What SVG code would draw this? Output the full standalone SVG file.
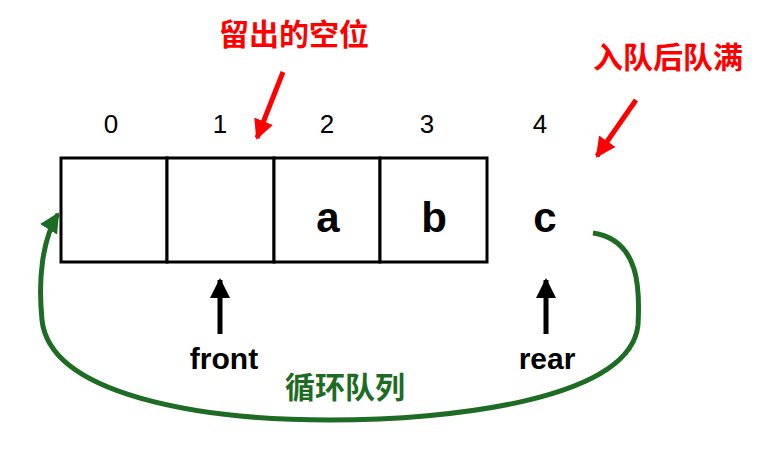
<svg xmlns="http://www.w3.org/2000/svg" width="769" height="454" viewBox="0 0 769 454">
<style>
.cell{fill:#fff;stroke:#000;stroke-width:3}
.idx{font-family:"Liberation Sans",sans-serif;font-size:26px;text-anchor:middle;fill:#000}
.val{font-family:"Liberation Sans",sans-serif;font-size:42px;font-weight:bold;text-anchor:middle;fill:#000}
.lbl{font-family:"Liberation Sans",sans-serif;font-size:30px;font-weight:bold;text-anchor:middle;fill:#000}
.red{font-family:"Noto Sans CJK SC",sans-serif;font-size:30px;font-weight:bold;text-anchor:middle;fill:#ff0000}
.grn{font-family:"Noto Sans CJK SC",sans-serif;font-size:30px;font-weight:bold;text-anchor:middle;fill:#1e6b24}
</style>
<defs>
<marker id="ar" viewBox="0 0 10 10" refX="9" refY="5" markerWidth="4" markerHeight="4" orient="auto" markerUnits="strokeWidth"><path d="M0,0L10,5L0,10z" fill="#ff0000"/></marker>
<marker id="ab" viewBox="0 0 10 10" refX="9" refY="5" markerWidth="4" markerHeight="4" orient="auto" markerUnits="strokeWidth"><path d="M0,0L10,5L0,10z" fill="#000"/></marker>
<marker id="ag" viewBox="0 0 10 10" refX="9" refY="5" markerWidth="4" markerHeight="4" orient="auto" markerUnits="strokeWidth"><path d="M0,0L10,5L0,10z" fill="#1e6b24"/></marker>
</defs>
<g id="cells">
<rect class="cell" x="61" y="158" width="106" height="104"/>
<rect class="cell" x="167" y="158" width="107" height="104"/>
<rect class="cell" x="274" y="158" width="106" height="104"/>
<rect class="cell" x="380" y="158" width="107" height="104"/>
</g>
<g id="indices">
<text class="idx" x="111" y="133">0</text>
<text class="idx" x="220" y="133">1</text>
<text class="idx" x="327" y="133">2</text>
<text class="idx" x="427" y="133">3</text>
<text class="idx" x="540" y="133">4</text>
</g>
<g id="values">
<text class="val" x="328" y="232">a</text>
<text class="val" x="434" y="232">b</text>
<text class="val" x="545" y="232">c</text>
</g>
<g id="labels">
<text class="red" x="294" y="45">留出的空位</text>
<text class="red" x="668" y="68">入队后队满</text>
<text class="lbl" x="224" y="369">front</text>
<text class="lbl" x="547" y="369">rear</text>
<text class="grn" x="345" y="398">循环队列</text>
</g>
<g id="connectors" fill="none">
<line x1="283" y1="72" x2="257" y2="138" stroke="#ff0000" stroke-width="5" marker-end="url(#ar)"/>
<line x1="636" y1="100" x2="597" y2="156" stroke="#ff0000" stroke-width="5" marker-end="url(#ar)"/>
<line x1="220" y1="334" x2="220" y2="280" stroke="#000" stroke-width="5" marker-end="url(#ab)"/>
<line x1="546" y1="334" x2="546" y2="280" stroke="#000" stroke-width="5" marker-end="url(#ab)"/>
<path d="M593,233 C640,240 640,290 638,325 C630,400 450,420 330,420 C200,420 50,395 42,320 C38,280 42,240 58,214" stroke="#1e6b24" stroke-width="5" marker-end="url(#ag)"/>
</g>
</svg>
